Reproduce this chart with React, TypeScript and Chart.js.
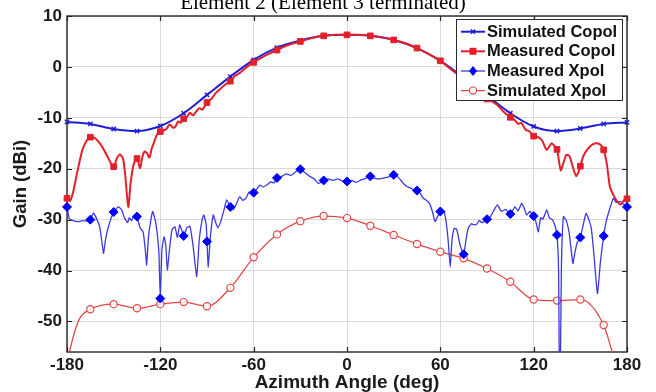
import React, { useEffect, useRef } from "react";
import { Chart, registerables } from "chart.js";

Chart.register(...registerables);

const TITLE = "Element 2 (Element 3 terminated)";
const X_TITLE = "Azimuth Angle (deg)";
const Y_TITLE = "Gain (dBi)";
const xTickValues = [-180, -120, -60, 0, 60, 120, 180];
const yTickValues = [10, 0, -10, -20, -30, -40, -50];

const simCopolAngle = [-180, -165, -150, -135, -120, -105, -90, -75, -60, -45, -30, -15, 0, 15, 30, 45, 60, 75, 90, 105, 120, 135, 150, 165, 180];
const simCopolGain = [-10.8, -11.2, -12.2, -12.6, -11.6, -9.1, -5.5, -1.9, 1.4, 3.8, 5.2, 6.1, 6.3, 6.1, 5.3, 3.7, 1.2, -2.1, -5.6, -9.1, -11.7, -12.6, -12.1, -11.2, -10.9];

const measCopolAngle = [-180, -178, -176, -173.5, -170, -167, -165, -162, -160, -157, -154, -152, -150, -148, -146, -144, -142.5, -140.6, -139, -137, -135, -133, -131.5, -130, -128.5, -127, -125.5, -124, -122, -120, -118, -116, -114, -112, -110.5, -108.5, -107, -105, -103, -101, -99, -97, -95, -93, -90, -87, -84, -81, -78, -75, -72, -69, -66, -63, -60, -52, -45, -38, -30, -22, -15, -7, 0, 7, 15, 22, 30, 38, 45, 52, 60, 67, 75, 82, 90, 94, 97, 100, 105, 108, 110, 112, 115, 117, 120, 123, 125.5, 128.4, 131.6, 133.5, 135, 137.4, 139, 141, 143, 145, 147.3, 149, 150, 152, 155, 158, 160.5, 163, 165, 167, 169, 171, 173.4, 176, 178, 180];
const measCopolGain = [-25.8, -26.3, -24.5, -20.8, -16.2, -14.3, -13.8, -14.0, -14.6, -15.9, -17.6, -18.8, -19.6, -18.0, -17.2, -18.0, -21.5, -27.5, -22.5, -19.0, -18.0, -19.9, -17.6, -16.6, -17.0, -17.8, -16.0, -14.8, -13.2, -12.7, -12.5, -12.2, -11.3, -11.9, -11.8, -10.7, -11.0, -10.2, -9.9, -9.0, -9.5, -8.8, -8.1, -8.4, -7.0, -6.2, -5.0, -4.2, -3.4, -2.8, -1.8, -1.2, -0.4, 0.3, 0.9, 2.3, 3.3, 4.3, 5.0, 5.7, 6.1, 6.3, 6.3, 6.3, 6.1, 5.8, 5.3, 4.6, 3.7, 2.6, 1.2, -0.5, -2.4, -4.3, -6.3, -6.9, -7.6, -8.6, -9.9, -10.5, -11.2, -11.0, -12.4, -12.6, -13.6, -13.8, -14.5, -16.3, -15.0, -15.6, -16.2, -20.3, -19.0, -17.3, -17.5, -19.5, -21.4, -20.5, -19.5, -17.5, -16.0, -15.2, -15.0, -15.3, -16.3, -19.0, -23.5, -25.0, -26.3, -27.0, -26.2, -25.9];

const measXpolAngle = [-180, -178.5, -176, -173, -170, -167, -165, -163, -161, -159, -157.5, -156.5, -155, -153, -150, -147, -145, -143, -141, -140, -138.5, -137, -135, -133, -131, -129.5, -128.8, -127.5, -125, -123, -121, -120, -119, -117.6, -116.5, -115.5, -114, -112.5, -110.6, -109, -107.5, -105, -103, -101, -99, -96.6, -95, -93, -92, -90.5, -90, -89.2, -88, -86, -84.5, -83, -81, -79, -77.3, -75, -73, -71, -69, -67, -65, -63, -60, -58, -56, -54, -51.6, -49, -47, -45, -42, -39, -36, -33, -30, -27, -24, -21, -18.4, -15, -12, -9, -6, -3, 0, 3, 6, 9, 12, 15, 18, 21, 24, 27, 30, 33, 36, 38.4, 41, 43, 45, 47, 49, 51, 53, 55, 56.6, 58, 60, 62, 63.5, 65, 66.4, 67.5, 69, 70.5, 72.7, 75, 76.5, 78, 80, 81.2, 83.4, 85, 87, 90, 92, 94, 96.7, 99.3, 102, 105, 108, 110, 112.3, 114, 115.5, 117.5, 120, 121.5, 123, 124.5, 126, 128.4, 130, 132, 133.5, 135, 136, 136.8, 137.8, 139.1, 141, 143, 145.2, 146.5, 148, 150, 151.5, 153.7, 155.5, 157, 158.5, 161, 163, 165, 166.5, 168, 170, 171.3, 173, 175.6, 178, 180];
const measXpolGain = [-27.5, -29.8, -30.2, -30.4, -30.2, -30.3, -30.0, -28.7, -29.8, -31.4, -34.5, -36.6, -33.5, -31.0, -28.5, -27.5, -28.0, -29.7, -30.6, -29.6, -30.2, -29.2, -29.4, -31.6, -32.5, -36.5, -38.9, -33.0, -28.4, -30.5, -36.0, -45.5, -36.0, -33.4, -35.0, -39.9, -35.5, -32.0, -31.4, -33.5, -31.0, -33.2, -31.6, -31.3, -35.0, -41.2, -34.0, -29.8, -29.1, -31.0, -34.3, -39.3, -34.0, -29.1, -30.5, -31.6, -30.2, -28.0, -26.1, -27.5, -28.0, -26.8, -25.5, -26.2, -25.8, -24.6, -24.7, -24.0, -23.2, -23.6, -23.2, -22.6, -22.8, -21.8, -21.5, -21.0, -21.3, -20.6, -20.1, -20.8, -21.5, -22.0, -22.9, -22.3, -22.0, -22.3, -22.0, -22.4, -22.5, -22.3, -22.7, -22.2, -21.9, -21.5, -21.9, -22.0, -21.8, -21.6, -21.2, -21.7, -22.8, -23.5, -23.8, -24.2, -24.3, -24.8, -25.8, -26.2, -26.8, -28.5, -30.4, -29.5, -28.4, -28.2, -30.0, -34.0, -39.3, -34.0, -31.7, -31.9, -35.0, -36.8, -34.0, -31.6, -30.8, -31.0, -30.9, -30.2, -30.6, -29.9, -29.5, -28.4, -27.1, -28.4, -28.0, -28.9, -27.5, -28.3, -26.8, -27.8, -29.1, -28.4, -29.3, -30.5, -32.4, -29.6, -29.9, -28.1, -29.6, -30.0, -31.0, -33.0, -40.0, -70.0, -40.0, -29.4, -30.2, -33.0, -38.6, -36.5, -34.5, -33.5, -31.5, -28.8, -30.0, -31.6, -36.0, -44.5, -38.0, -33.2, -30.5, -28.8, -26.8, -25.8, -26.6, -26.4, -27.0, -27.5];

const simXpolAngle = [-180, -176, -172, -165, -150, -135, -120, -105, -90, -75, -60, -45, -30, -15, 0, 15, 30, 45, 60, 75, 90, 105, 120, 135, 150, 165, 170, 175, 180];
const simXpolGain = [-58.0, -53.0, -49.5, -47.6, -46.6, -47.4, -46.6, -46.2, -47.0, -43.4, -37.4, -32.9, -30.3, -29.3, -29.7, -31.2, -33.0, -34.8, -36.3, -37.6, -39.6, -42.2, -45.7, -45.9, -45.7, -50.7, -55.5, -61.0, -67.0];

const BLUE = "#1e1ed4";
const RED = "#e3202a";
const XBLUE = "#3a3ae2";
const XRED = "#e24848";
const FONT = '"Liberation Sans", Arial, sans-serif';

const isMarker = (x: number) => Math.abs(x % 15) < 1e-6;
const pts = (a: number[], g: number[]) => a.map((x, i) => ({ x, y: g[i] }));

function drawMarker(ctx: CanvasRenderingContext2D, style: string, x: number, y: number, color: string) {
  ctx.save();
  ctx.strokeStyle = color;
  ctx.fillStyle = color;
  if (style === "crossRot") {
    const r = 3;
    ctx.lineWidth = 1.5;
    ctx.beginPath();
    ctx.moveTo(x - r * 0.7, y - r * 0.7); ctx.lineTo(x + r * 0.7, y + r * 0.7);
    ctx.moveTo(x - r * 0.7, y + r * 0.7); ctx.lineTo(x + r * 0.7, y - r * 0.7);
    ctx.stroke();
  } else if (style === "rect") {
    ctx.fillRect(x - 3.5, y - 3.5, 7, 7);
  } else if (style === "rectRot") {
    ctx.beginPath();
    ctx.moveTo(x, y - 5); ctx.lineTo(x + 4, y); ctx.lineTo(x, y + 5); ctx.lineTo(x - 4, y); ctx.closePath();
    ctx.fill();
  } else {
    ctx.fillStyle = "#fff";
    ctx.lineWidth = 1.2;
    ctx.beginPath(); ctx.arc(x, y, 3.6, 0, Math.PI * 2); ctx.fill(); ctx.stroke();
  }
  ctx.restore();
}

const framePlugin = {
  id: "frame",
  beforeDatasetsDraw(chart: any) {
    const { ctx, chartArea: a, scales } = chart;
    ctx.save();
    ctx.strokeStyle = "#262626";
    ctx.lineWidth = 1.4;
    ctx.strokeRect(a.left, a.top, a.right - a.left, a.bottom - a.top);
    ctx.lineWidth = 1.2;
    ctx.beginPath();
    const tl = 5;
    xTickValues.forEach((v) => {
      const px = Math.round(scales.x.getPixelForValue(v)) + 0.5;
      ctx.moveTo(px, a.top); ctx.lineTo(px, a.top + tl);
      ctx.moveTo(px, a.bottom); ctx.lineTo(px, a.bottom - tl);
    });
    yTickValues.forEach((v) => {
      const py = Math.round(scales.y.getPixelForValue(v)) + 0.5;
      ctx.moveTo(a.left, py); ctx.lineTo(a.left + tl, py);
      ctx.moveTo(a.right, py); ctx.lineTo(a.right - tl, py);
    });
    ctx.stroke();
    ctx.restore();
  },
};

const decorPlugin = {
  id: "decor",
  afterDraw(chart: any) {
    const ctx: CanvasRenderingContext2D = chart.ctx;
    ctx.save();
    // title (partially cut at the top)
    ctx.fillStyle = "#000";
    ctx.font = '21px "Liberation Serif", "Times New Roman", serif';
    ctx.textAlign = "center";
    ctx.textBaseline = "alphabetic";
    ctx.fillText(TITLE, 323, 9);
    // legend
    const bx = 456.5, by = 19.5, bw = 166, bh = 81;
    ctx.fillStyle = "#fff";
    ctx.fillRect(bx, by, bw, bh);
    ctx.strokeStyle = "#2b2b2b";
    ctx.lineWidth = 1;
    ctx.strokeRect(bx, by, bw, bh);
    const rows = [31.7, 51.3, 71, 90.6];
    chart.data.datasets.forEach((ds: any, i: number) => {
      const y = rows[i];
      ctx.strokeStyle = ds.borderColor;
      ctx.lineWidth = ds.borderWidth;
      ctx.beginPath(); ctx.moveTo(461, y); ctx.lineTo(485, y); ctx.stroke();
      drawMarker(ctx, ds.pointStyle, 473, y, ds.pointBorderColor);
      ctx.fillStyle = "#111";
      ctx.font = "bold 16.5px " + FONT;
      ctx.textAlign = "left";
      ctx.textBaseline = "middle";
      ctx.fillText(ds.label, 487, y + 0.5);
    });
    ctx.restore();
  },
};

export default function App() {
  const ref = useRef<HTMLCanvasElement>(null);
  useEffect(() => {
    if (!ref.current) return;
    const clip = { left: 8, right: 8, top: 8, bottom: 0 };
    const chart = new Chart(ref.current, {
      type: "line",
      data: {
        datasets: [
          {
            label: "Simulated Copol",
            data: pts(simCopolAngle, simCopolGain),
            borderColor: BLUE,
            borderWidth: 2,
            pointStyle: "crossRot",
            pointRadius: (c: any) => (isMarker(c.raw.x) ? 3 : 0),
            pointBorderColor: BLUE,
            pointBackgroundColor: BLUE,
            pointBorderWidth: 1.5,
            cubicInterpolationMode: "monotone",
            order: 1,
            clip,
          } as any,
          {
            label: "Measured Copol",
            data: pts(measCopolAngle, measCopolGain),
            borderColor: RED,
            borderWidth: 2,
            pointStyle: "rect",
            pointRadius: (c: any) => (isMarker(c.raw.x) ? 4 : 0),
            pointBorderColor: RED,
            pointBackgroundColor: RED,
            pointBorderWidth: 1,
            tension: 0.25,
            order: 0,
            clip,
          } as any,
          {
            label: "Measured Xpol",
            data: pts(measXpolAngle, measXpolGain),
            borderColor: XBLUE,
            borderWidth: 1.3,
            pointStyle: "rectRot",
            pointRadius: (c: any) => (isMarker(c.raw.x) ? 4.5 : 0),
            pointBorderColor: "#0000ff",
            pointBackgroundColor: "#0000ff",
            pointBorderWidth: 1,
            tension: 0.15,
            order: 2,
            clip,
          } as any,
          {
            label: "Simulated Xpol",
            data: pts(simXpolAngle, simXpolGain),
            borderColor: XRED,
            borderWidth: 1.3,
            pointStyle: "circle",
            pointRadius: (c: any) => (isMarker(c.raw.x) ? 3.6 : 0),
            pointBorderColor: XRED,
            pointBackgroundColor: "rgba(255,255,255,0.85)",
            pointBorderWidth: 1.2,
            cubicInterpolationMode: "monotone",
            order: 3,
            clip,
          } as any,
        ],
      },
      options: {
        responsive: false,
        animation: false,
        devicePixelRatio: 1,
        layout: { padding: { top: 16, right: 29, left: 0, bottom: 0 } },
        plugins: { legend: { display: false }, tooltip: { enabled: false }, title: { display: false } },
        scales: {
          x: {
            type: "linear",
            min: -180,
            max: 180,
            afterBuildTicks: (s: any) => { s.ticks = xTickValues.map((v) => ({ value: v })); },
            afterFit: (s: any) => { s.height = 40; },
            grid: { color: "#dadada", lineWidth: 1, drawTicks: false },
            border: { display: false },
            ticks: { padding: 3, color: "#1a1a1a", font: { family: FONT, size: 17, weight: "bold" }, maxRotation: 0, autoSkip: false },
            title: { display: true, text: X_TITLE, color: "#1a1a1a", font: { family: FONT, size: 19, weight: "bold", lineHeight: 1 }, padding: { top: 0, bottom: 0 } },
          },
          y: {
            type: "linear",
            min: -56,
            max: 10,
            afterBuildTicks: (s: any) => { s.ticks = yTickValues.map((v) => ({ value: v })); },
            afterFit: (s: any) => { s.width = 67; },
            grid: { color: "#dadada", lineWidth: 1, drawTicks: false },
            border: { display: false },
            ticks: { padding: 5, color: "#1a1a1a", font: { family: FONT, size: 17, weight: "bold" }, autoSkip: false },
            title: { display: true, text: Y_TITLE, color: "#1a1a1a", font: { family: FONT, size: 18.5, weight: "bold", lineHeight: 1 }, padding: { top: 12, bottom: 0 } },
          },
        },
      } as any,
      plugins: [framePlugin, decorPlugin],
    });
    return () => chart.destroy();
  }, []);
  return (
    <div style={{ position: "fixed", left: 0, top: 0, width: 656, height: 392, background: "#fff" }}>
      <canvas ref={ref} width={656} height={392} style={{ display: "block", width: 656, height: 392 }} />
    </div>
  );
}
